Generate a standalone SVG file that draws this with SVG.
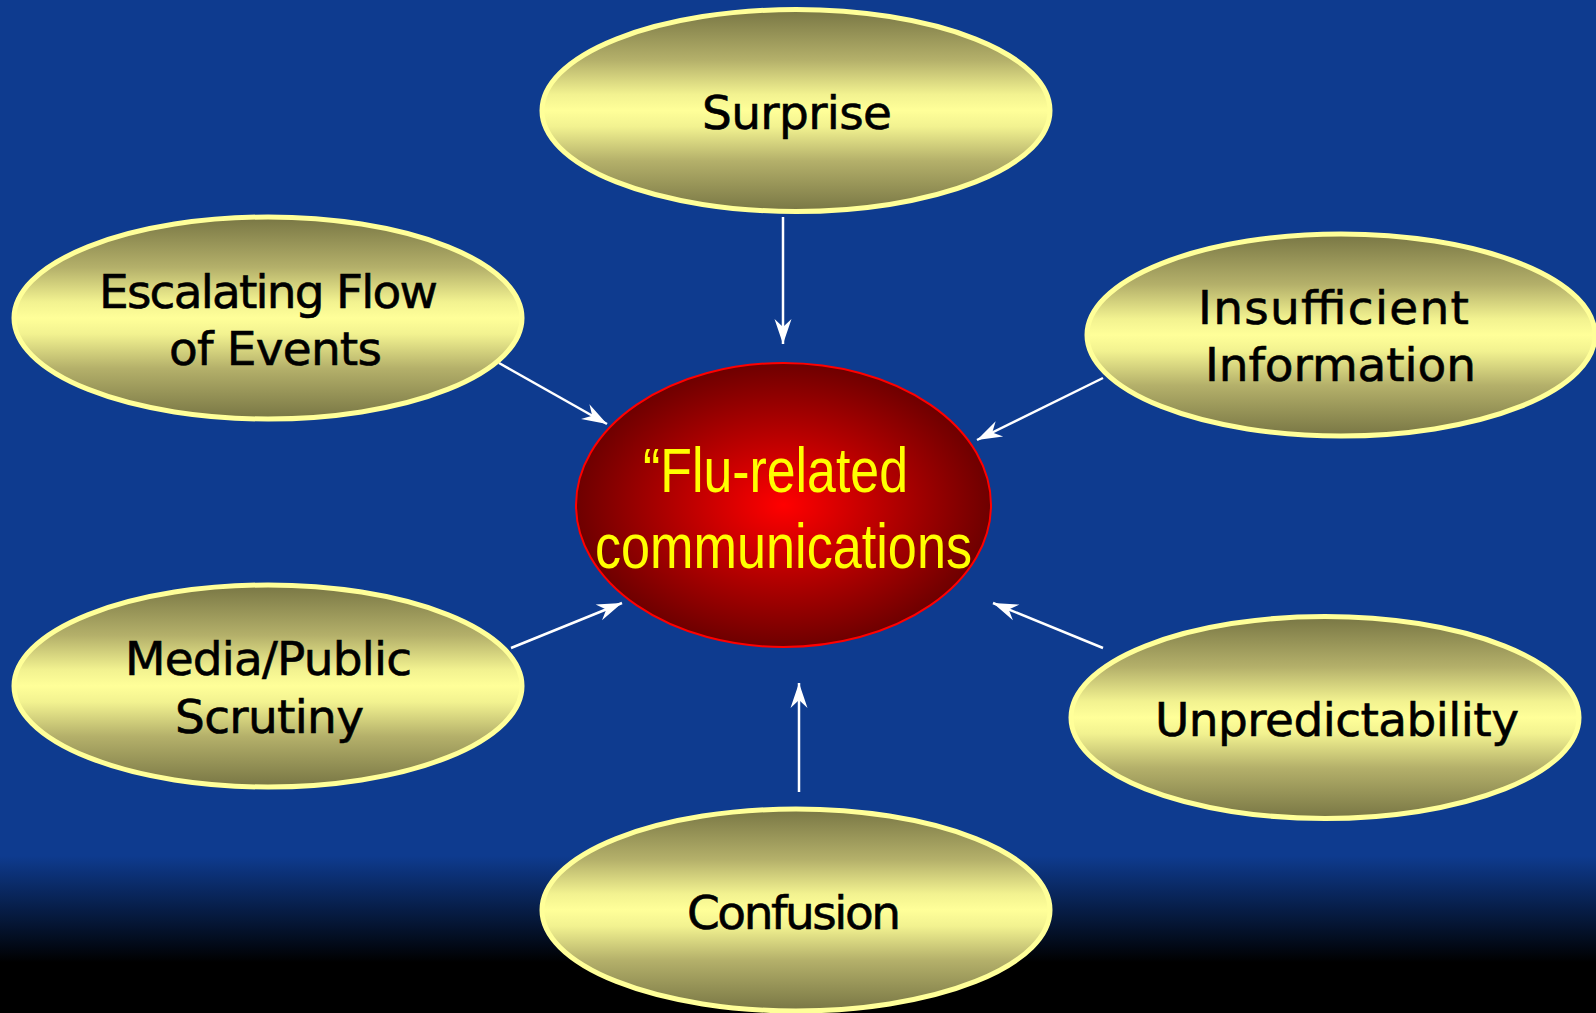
<svg xmlns="http://www.w3.org/2000/svg" width="1596" height="1013" viewBox="0 0 1596 1013">
  <defs>
    <linearGradient id="bg" x1="0" y1="0" x2="0" y2="1013" gradientUnits="userSpaceOnUse">
      <stop offset="0" stop-color="#0E3B8F"/>
      <stop offset="0.845" stop-color="#0E3B8F"/>
      <stop offset="0.95" stop-color="#000000"/>
      <stop offset="1" stop-color="#000000"/>
    </linearGradient>
    <linearGradient id="olive" x1="0" y1="0" x2="0" y2="1">
      <stop offset="0" stop-color="#787644"/>
      <stop offset="0.25" stop-color="#B4B06A"/>
      <stop offset="0.42" stop-color="#F2F290"/>
      <stop offset="0.5" stop-color="#FFFF99"/>
      <stop offset="0.58" stop-color="#F2F290"/>
      <stop offset="0.75" stop-color="#B4B06A"/>
      <stop offset="1" stop-color="#787644"/>
    </linearGradient>
    <radialGradient id="redg" cx="0.5" cy="0.5" r="0.5">
      <stop offset="0" stop-color="#FF0000"/>
      <stop offset="1" stop-color="#6E0000"/>
    </radialGradient>
    <marker id="arr" markerUnits="userSpaceOnUse" markerWidth="30" markerHeight="24" viewBox="-26 -12 30 24" refX="0" refY="0" orient="auto">
      <path d="M0,0 L-25,-8.5 L-17,0 L-25,8.5 Z" fill="#FFFFFF"/>
    </marker>
    <style>
      .node { fill: url(#olive); stroke: #FFFF99; stroke-width: 5; }
      .lbl { font-family: "DejaVu Sans", sans-serif; font-size: 47px; fill: #000000; stroke: #000000; stroke-width: 0.6; }
      .conn { stroke: #FFFFFF; stroke-width: 2.5; fill: none; marker-end: url(#arr); }
      .ctr { font-family: "Liberation Sans", Arial, sans-serif; font-size: 63px; fill: #FFFF00; }
    </style>
  </defs>
  <rect x="0" y="0" width="1596" height="1013" fill="url(#bg)"/>

  <g id="connectors">
    <line class="conn" x1="783" y1="217" x2="783" y2="344"/>
    <line class="conn" x1="499" y1="363" x2="607" y2="424"/>
    <line class="conn" x1="1103" y1="378" x2="977" y2="440"/>
    <line class="conn" x1="511" y1="648" x2="622" y2="603"/>
    <line class="conn" x1="1103" y1="648" x2="993" y2="603"/>
    <line class="conn" x1="799" y1="792" x2="799" y2="683"/>
  </g>

  <g id="center">
    <ellipse cx="783.5" cy="505" rx="207.5" ry="142" fill="url(#redg)" stroke="#FF0000" stroke-width="2"/>
    <text class="ctr" x="643" y="492" textLength="265" lengthAdjust="spacingAndGlyphs">“Flu-related</text>
    <text class="ctr" x="595" y="568" textLength="377" lengthAdjust="spacingAndGlyphs">communications</text>
  </g>

  <g id="surprise">
    <ellipse class="node" cx="796" cy="110.5" rx="254" ry="101"/>
    <text class="lbl" x="702" y="129" textLength="190">Surprise</text>
  </g>

  <g id="escalating">
    <ellipse class="node" cx="268" cy="318" rx="254" ry="101"/>
    <text class="lbl" x="99" y="308" textLength="339">Escalating Flow</text>
    <text class="lbl" x="169" y="365" textLength="213">of Events</text>
  </g>

  <g id="insufficient">
    <ellipse class="node" cx="1341" cy="335" rx="254" ry="101"/>
    <text class="lbl" x="1198" y="324" textLength="271">Insufficient</text>
    <text class="lbl" x="1205" y="381" textLength="271">Information</text>
  </g>

  <g id="media">
    <ellipse class="node" cx="268" cy="686" rx="254" ry="101"/>
    <text class="lbl" x="125" y="675" textLength="287">Media/Public</text>
    <text class="lbl" x="175" y="733" textLength="189">Scrutiny</text>
  </g>

  <g id="unpredictability">
    <ellipse class="node" cx="1325" cy="717.5" rx="254" ry="101"/>
    <text class="lbl" x="1155" y="736" textLength="364">Unpredictability</text>
  </g>

  <g id="confusion">
    <ellipse class="node" cx="796" cy="910" rx="254" ry="101"/>
    <text class="lbl" x="687" y="929" textLength="214">Confusion</text>
  </g>
</svg>
